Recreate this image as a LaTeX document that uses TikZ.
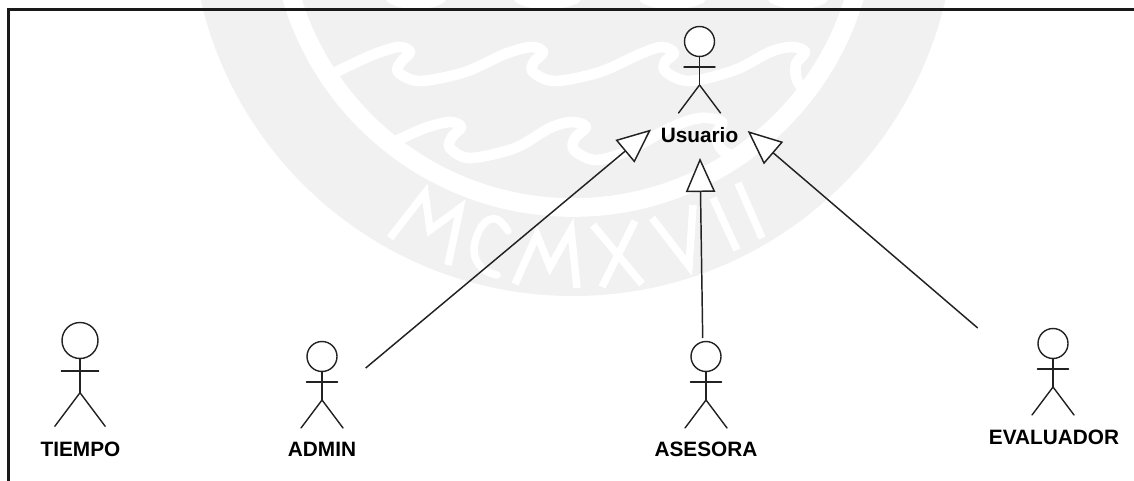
\documentclass[tikz,border=0pt]{standalone}
\usepackage{fontspec}
\setmainfont{Liberation Sans}
\usetikzlibrary{arrows.meta,calc}
\definecolor{sealgray}{HTML}{F1F1F1}
\definecolor{inkline}{HTML}{222222}
\tikzset{
  actorhead/.style={circle,draw=inkline,fill=white,line width=1.05pt,inner sep=0pt,outer sep=0pt},
  actorline/.style={draw=inkline,line width=1.05pt,line cap=round},
  actorlabel/.style={font=\bfseries\fontsize{15.6}{18}\selectfont,text=black,inner sep=0pt},
  inherit/.style={draw=inkline,line width=1.1pt,-{Triangle[open,fill=white,length=25.5pt,width=22pt]}},
  sealstroke/.style={draw=white,line width=8pt,line cap=round,line join=round},
  sealletter/.style={draw=white,line width=5.6pt,line cap=butt,line join=miter},
  frameline/.style={draw=black!90,line width=1.9pt,line cap=butt}
}
% name, x, head y, scale, label text, label x, label y
\newcommand{\umlactor}[7]{%
  \node[actorhead,minimum size={30*#4*0.75pt}] (#1) at (#2,#3) {};
  \draw[actorline] (#1.south) -- ++(0,28.5*#4) coordinate (#1-hip);
  \draw[actorline] ([shift={(-15.5*#4,25.5*#4)}]#1.center) -- ++(31*#4,0);
  \draw[actorline] (#1-hip) -- ++(-21*#4,28*#4);
  \draw[actorline] (#1-hip) -- ++(21*#4,28*#4);
  \node[actorlabel] (#1-label) at (#6,#7) {#5};
}
\begin{document}
\begin{tikzpicture}[x=0.75pt,y=-0.75pt]
\useasboundingbox (0,0) rectangle (1134,481);
\fill[white] (0,0) rectangle (1134,481);
% watermark seal
\begin{scope}
  \clip (0,0) rectangle (1134,481);
  \fill[sealgray] (573,-86) circle[radius=382];
  \draw[draw=white,line width=14pt] (573,-86) circle[radius=293.5];
  % waves
  \draw[sealstroke] plot[smooth,tension=.55] coordinates {(336,72) (370,56) (398,47) (410,52) (401,62) (398,72) (420,81) (465,72) (505,54) (531,47) (543,52) (534,62) (533,72) (555,81) (600,72) (640,54) (662,47) (674,53) (665,62) (666,72) (690,81) (735,70) (770,52) (792,47) (805,52) (796,64) (797,80) (806,92)};
  \draw[sealstroke] plot[smooth,tension=.55] coordinates {(396,141) (425,128) (450,122) (461,127) (452,137) (450,148) (470,158) (515,148) (550,128) (572,122) (586,127) (575,138) (574,150) (595,160) (625,152) (670,128) (700,118) (722,122) (716,135) (722,150) (738,158)};
  % fragments above the frame
  \draw[sealstroke] (391,-2) .. controls (405,6) and (428,6) .. (441,-2);
  \draw[sealstroke] (519,-2) .. controls (533,6) and (560,6) .. (576,-2);
  \draw[sealstroke] (644,-2) .. controls (658,6) and (685,6) .. (701,-2);
  \draw[sealstroke] (773,-2) .. controls (787,6) and (810,6) .. (823,-2);
  % MCMXVII
  \draw[sealletter] (390,238) -- (425,193) -- (430,230) -- (460,208) -- (448,265);
  \draw[sealletter,line cap=round] plot[smooth,tension=.7] coordinates {(508,231) (496,219) (482,226) (474,250) (482,268) (497,275)};
  \draw[sealletter] (515,284) -- (537,235) -- (550,267) -- (571,230) -- (577,288);
  \draw[sealletter] (593,225) -- (642,284);
  \draw[sealletter] (635,221) -- (602,287);
  \draw[sealletter] (652,218) -- (689,266) -- (693,205);
  \draw[sealletter] (713,198) -- (737,250);
  \draw[sealletter] (738,183) -- (762,238);
\end{scope}
% frame
\draw[frameline] (8.5,481) -- (8.5,9.5) -- (1134,9.5);
% actors
\umlactor{usuario}{699.5}{41.5}{1}{Usuario}{699.5}{135}
\umlactor{tiempo}{80}{340.5}{1.2}{TIEMPO}{80.5}{449}
\umlactor{admin}{322}{356.5}{1}{ADMIN}{322}{449}
\umlactor{asesora}{706}{356.5}{1}{ASESORA}{706}{449.5}
\umlactor{evaluador}{1053}{343.5}{1}{EVALUADOR}{1054}{437}
% connector ends
\coordinate (admin-out) at (365.7,368);
\coordinate (asesora-out) at (702.7,338);
\coordinate (evaluador-out) at (977.7,328);
\coordinate (usuario-left) at (651,129.5);
\coordinate (usuario-bottom) at (700,158);
\coordinate (usuario-right) at (747.7,131);
\draw[inherit] (admin-out) -- (usuario-left);
\draw[inherit] (asesora-out) -- (usuario-bottom);
\draw[inherit] (evaluador-out) -- (usuario-right);
\end{tikzpicture}
\end{document}
